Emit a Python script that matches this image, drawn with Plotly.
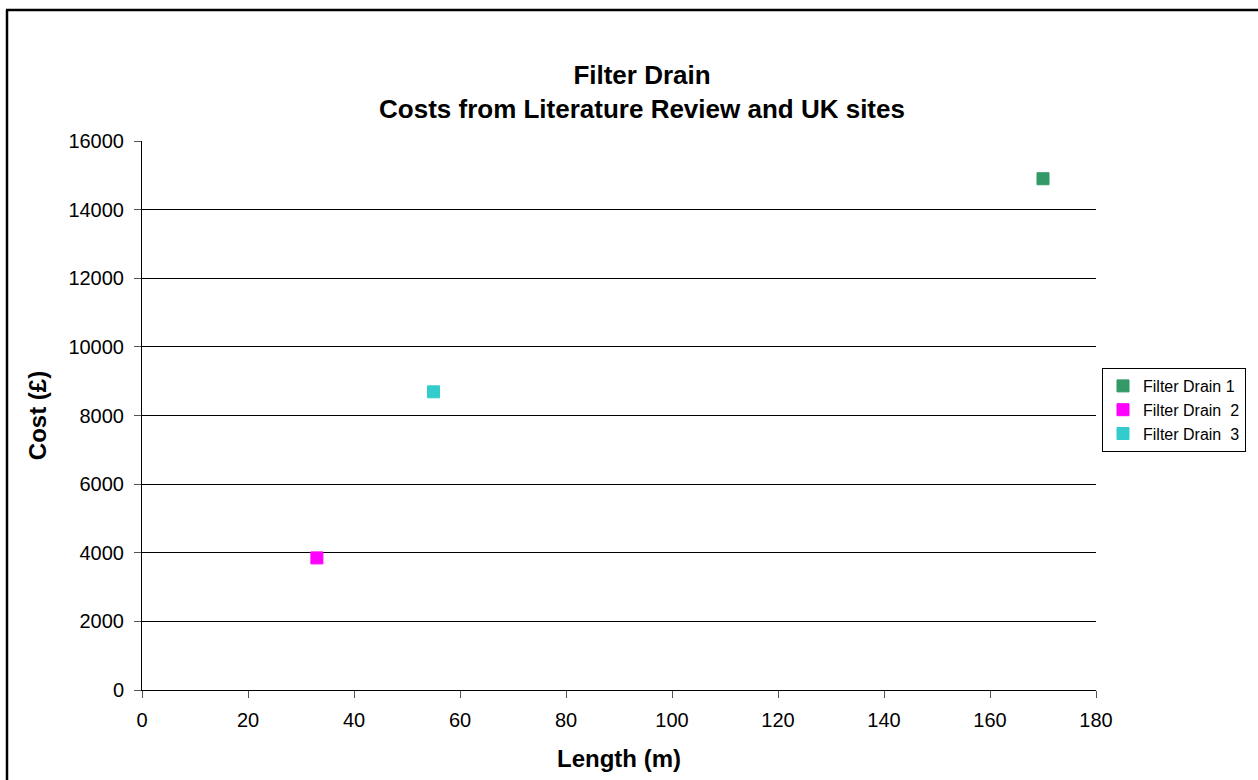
import plotly.graph_objects as go

series_names = ["Filter Drain 1", "Filter Drain  2", "Filter Drain  3"]
lengths = [170, 33, 55]
costs = [14900, 3850, 8690]
colors = ["#339966", "#FF00FF", "#33CCCC"]

x_ticks = [0, 20, 40, 60, 80, 100, 120, 140, 160, 180]
y_ticks = [0, 2000, 4000, 6000, 8000, 10000, 12000, 14000, 16000]

W, H = 1258, 780
L, R, T, B = 142, 162, 141, 90
pw, ph = W - L - R, H - T - B

fig = go.Figure()
for name, x, y, c in zip(series_names, lengths, costs, colors):
    fig.add_trace(go.Scatter(
        x=[x], y=[y], mode="markers", name=name,
        marker=dict(symbol="square", size=12, color=c, line=dict(color=c, width=1)),
    ))

def px_x(p):
    return (p - L) / pw

def px_y(p):
    return (H - B - p) / ph

fig.update_layout(
    width=W, height=H,
    margin=dict(l=L, r=R, t=T, b=B),
    paper_bgcolor="white", plot_bgcolor="white",
    font=dict(family="Liberation Sans, Arial, sans-serif", color="black", size=20),
    title=dict(
        text="<b>Filter Drain<br>Costs from Literature Review and UK sites</b>",
        x=642 / W, xanchor="center", y=1 - 84 / H, yanchor="top",
        font=dict(size=26, color="black"),
    ),
    xaxis=dict(
        range=[0, 180], tickvals=x_ticks, ticktext=[str(v) for v in x_ticks],
        showgrid=False, zeroline=False, showline=True, linecolor="black", linewidth=1,
        ticks="outside", ticklen=7, tickcolor="#555", tickfont=dict(size=20),
        ticklabelstandoff=5,
        title=dict(text="<b>Length (m)</b>", font=dict(size=24), standoff=20),
    ),
    yaxis=dict(
        range=[0, 16000], tickvals=y_ticks, ticktext=[str(v) for v in y_ticks],
        showgrid=True, gridcolor="black", gridwidth=0.6, zeroline=False,
        showline=True, linecolor="black", linewidth=1,
        ticks="outside", ticklen=7, tickcolor="#555", tickfont=dict(size=20),
        ticklabelstandoff=6,
        title=dict(text="<b>Cost (£)</b>", font=dict(size=24), standoff=14),
    ),
    legend=dict(
        x=px_x(1102), xanchor="left", y=px_y(410), yanchor="middle",
        bordercolor="black", borderwidth=1, bgcolor="white",
        font=dict(size=16), itemwidth=30, tracegroupgap=0,
    ),
    showlegend=True,
)

# outer chart border (left and top edges visible)
fig.add_shape(type="line", xref="paper", yref="paper",
              x0=px_x(7), x1=px_x(7), y0=px_y(10), y1=px_y(800),
              line=dict(color="black", width=2.5))
fig.add_shape(type="line", xref="paper", yref="paper",
              x0=px_x(6), x1=px_x(1300), y0=px_y(10), y1=px_y(10),
              line=dict(color="black", width=2.5))

fig.write_html("out.html")
